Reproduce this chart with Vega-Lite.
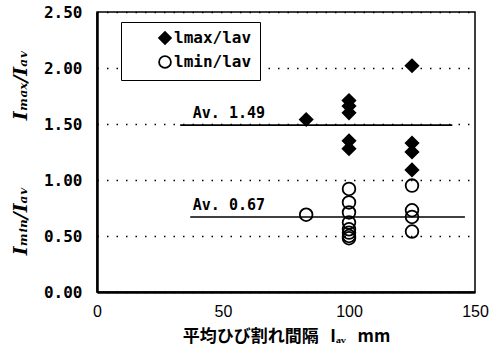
{
  "$schema": "https://vega.github.io/schema/vega-lite/v6.json",
  "width": 378,
  "height": 280,
  "autosize": {"type": "none"},
  "padding": {"left": 97, "top": 12, "right": 20, "bottom": 60},
  "background": "white",
  "config": {
    "view": {"stroke": "black", "strokeWidth": 1.5},
    "axis": {"domainColor": "black", "domainWidth": 2.5, "labelColor": "black", "titleColor": "black"}
  },
  "datasets": {
    "pts": [
      {"spacing": 83, "ratio": 1.54, "series": "lmax/lav"},
      {"spacing": 100, "ratio": 1.71, "series": "lmax/lav"},
      {"spacing": 100, "ratio": 1.66, "series": "lmax/lav"},
      {"spacing": 100, "ratio": 1.60, "series": "lmax/lav"},
      {"spacing": 100, "ratio": 1.35, "series": "lmax/lav"},
      {"spacing": 100, "ratio": 1.28, "series": "lmax/lav"},
      {"spacing": 125, "ratio": 2.02, "series": "lmax/lav"},
      {"spacing": 125, "ratio": 1.33, "series": "lmax/lav"},
      {"spacing": 125, "ratio": 1.25, "series": "lmax/lav"},
      {"spacing": 125, "ratio": 1.09, "series": "lmax/lav"},
      {"spacing": 83, "ratio": 0.69, "series": "lmin/lav"},
      {"spacing": 100, "ratio": 0.92, "series": "lmin/lav"},
      {"spacing": 100, "ratio": 0.80, "series": "lmin/lav"},
      {"spacing": 100, "ratio": 0.71, "series": "lmin/lav"},
      {"spacing": 100, "ratio": 0.62, "series": "lmin/lav"},
      {"spacing": 100, "ratio": 0.56, "series": "lmin/lav"},
      {"spacing": 100, "ratio": 0.53, "series": "lmin/lav"},
      {"spacing": 100, "ratio": 0.50, "series": "lmin/lav"},
      {"spacing": 100, "ratio": 0.48, "series": "lmin/lav"},
      {"spacing": 125, "ratio": 0.95, "series": "lmin/lav"},
      {"spacing": 125, "ratio": 0.73, "series": "lmin/lav"},
      {"spacing": 125, "ratio": 0.67, "series": "lmin/lav"},
      {"spacing": 125, "ratio": 0.54, "series": "lmin/lav"}
    ],
    "avg": [
      {"start": 33, "end": 141, "value": 1.49, "label": "Av. 1.49", "lx": 38},
      {"start": 37, "end": 146, "value": 0.67, "label": "Av. 0.67", "lx": 38}
    ]
  },
  "layer": [
    {
      "data": {"name": "pts"},
      "mark": {"type": "point", "stroke": "black", "strokeWidth": 1.8, "opacity": 1},
      "encoding": {
        "x": {
          "field": "spacing", "type": "quantitative",
          "scale": {"domain": [0, 150], "nice": false},
          "axis": {
            "values": [0, 50, 100, 150], "grid": false, "ticks": false,
            "labelFlush": false, "labelOverlap": false, "labelPadding": 11,
            "labelFont": "Liberation Sans", "labelFontSize": 16,
            "title": "平均ひび割れ間隔\u00a0\u00a0\u00a0Iₐᵥ\u00a0\u00a0\u00a0mm",
            "titleFont": "Noto Sans CJK JP", "titleFontSize": 17, "titleFontWeight": "bold",
            "titlePadding": 9
          }
        },
        "y": {
          "field": "ratio", "type": "quantitative",
          "scale": {"domain": [0, 2.5], "nice": false},
          "axis": {
            "values": [0, 0.5, 1, 1.5, 2, 2.5], "format": ".2f",
            "grid": true, "gridColor": "black", "gridDash": [1.5, 8], "gridWidth": 1.5, "gridOpacity": 1,
            "ticks": false, "labelPadding": 15,
            "labelFont": "DejaVu Sans Mono", "labelFontWeight": "bold", "labelFontSize": 16,
            "title": "Iₘᵢₙ/Iₐᵥ\u00a0\u00a0\u00a0\u00a0\u00a0\u00a0\u00a0\u00a0\u00a0\u00a0Iₘₐₓ/Iₐᵥ",
            "titleFont": "DejaVu Serif", "titleFontStyle": "italic", "titleFontWeight": "bold",
            "titleFontSize": 19, "titlePadding": 13
          }
        },
        "shape": {
          "field": "series", "type": "nominal",
          "scale": {"domain": ["lmax/lav", "lmin/lav"], "range": ["diamond", "circle"]},
          "legend": {
            "title": null, "orient": "none", "legendX": 24, "legendY": 10,
            "strokeColor": "black", "fillColor": "white", "padding": 8,
            "symbolOffset": 28, "symbolSize": 140, "symbolStrokeWidth": 1.8,
            "rowPadding": 4, "labelFont": "DejaVu Sans Mono", "labelFontWeight": "bold",
            "labelFontSize": 16, "labelOffset": 1
          }
        },
        "fill": {
          "field": "series", "type": "nominal",
          "scale": {"domain": ["lmax/lav", "lmin/lav"], "range": ["black", "rgba(0,0,0,0)"]},
          "legend": {
            "title": null, "orient": "none", "legendX": 24, "legendY": 10,
            "strokeColor": "black", "fillColor": "white", "padding": 8,
            "symbolOffset": 28, "symbolSize": 140, "symbolStrokeWidth": 1.8,
            "rowPadding": 4, "labelFont": "DejaVu Sans Mono", "labelFontWeight": "bold",
            "labelFontSize": 16, "labelOffset": 1
          }
        },
        "size": {"value": 160}
      }
    },
    {
      "data": {"name": "avg"},
      "mark": {"type": "rule", "stroke": "black", "strokeWidth": 1.6},
      "encoding": {
        "x": {"field": "start", "type": "quantitative"},
        "x2": {"field": "end"},
        "y": {"field": "value", "type": "quantitative"}
      }
    },
    {
      "data": {"name": "avg"},
      "mark": {"type": "text", "align": "left", "baseline": "alphabetic", "dy": -7, "font": "DejaVu Sans Mono", "fontWeight": "bold", "fontSize": 15, "fill": "black"},
      "encoding": {
        "x": {"field": "lx", "type": "quantitative"},
        "y": {"field": "value", "type": "quantitative"},
        "text": {"field": "label"}
      }
    }
  ]
}
